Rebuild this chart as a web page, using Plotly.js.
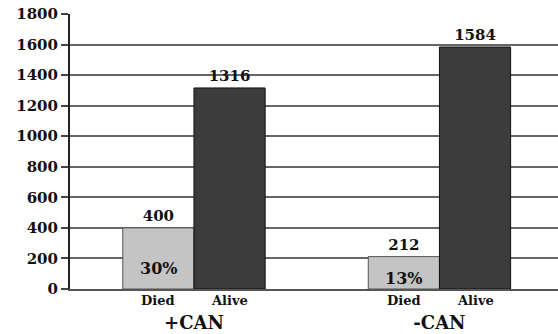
<!DOCTYPE html>
<html><head><meta charset="utf-8">
<script src="https://cdn.plot.ly/plotly-3.0.1.min.js"></script>
<style>html,body{margin:0;padding:0;background:#fff}</style>
</head><body>
<div id="chart" style="width:558px;height:334px"></div>
<script>
var groups = ['+CAN', '-CAN'];
var seriesNames = ['Died', 'Alive'];
var died = [400, 212];
var alive = [1316, 1584];
var diedPct = ['30%', '13%'];
var yTicks = [0, 200, 400, 600, 800, 1000, 1200, 1400, 1600, 1800];

var FONT = 'DejaVu Serif, Liberation Serif, serif';
var bargap = 0.42;
var xRange = [-0.505, 1.483];
var marginL = 70, marginR = 0;
var plotW = 558 - marginL - marginR;
var pxPerCat = plotW / (xRange[1] - xRange[0]);
var halfBar = (1 - bargap) / 4 * pxPerCat;

var traces = [
  {type: 'bar', name: seriesNames[0], x: groups, y: died,
   marker: {color: '#c4c4c4', line: {color: '#555', width: 1}},
   text: died.map(String), textposition: 'outside', cliponaxis: false,
   textfont: {family: FONT, size: 15, color: '#111', weight: 'bold'}},
  {type: 'bar', name: seriesNames[1], x: groups, y: alive,
   marker: {color: '#3c3c3c', line: {color: '#111', width: 1}},
   text: alive.map(String), textposition: 'outside', cliponaxis: false,
   textfont: {family: FONT, size: 15, color: '#111', weight: 'bold'}}
];

var annotations = [];
groups.forEach(function (g, i) {
  annotations.push({x: g, y: died[i] * 0.33, xref: 'x', yref: 'y', xshift: -halfBar,
    text: diedPct[i], showarrow: false, yanchor: 'middle',
    font: {family: FONT, size: 16, color: '#111', weight: 'bold'}});
  seriesNames.forEach(function (s, k) {
    annotations.push({x: g, y: 0, xref: 'x', yref: 'y', xshift: (k === 0 ? -1 : 1) * halfBar,
      yshift: -2, text: s, showarrow: false, yanchor: 'top',
      font: {family: FONT, size: 13, color: '#111', weight: 'bold'}});
  });
});

var layout = {
  width: 558, height: 334,
  margin: {l: marginL, r: marginR, t: 14, b: 45},
  paper_bgcolor: '#fff', plot_bgcolor: '#fff',
  showlegend: false,
  barmode: 'group', bargap: bargap, bargroupgap: 0,
  xaxis: {type: 'category', range: xRange, showgrid: false, showline: true,
    linecolor: '#555', linewidth: 2, ticks: '', ticklabelstandoff: 16,
    tickfont: {family: FONT, size: 18, color: '#111', weight: 'bold'}, fixedrange: true},
  yaxis: {range: [0, 1800], tickvals: yTicks, ticktext: yTicks.map(String),
    showgrid: true, gridcolor: '#666', gridwidth: 2, zeroline: false,
    showline: true, linecolor: '#222', linewidth: 2,
    ticks: 'outside', ticklen: 7, tickcolor: '#444', tickwidth: 2,
    tickfont: {family: FONT, size: 15, color: '#111', weight: 'bold'}, fixedrange: true},
  annotations: annotations
};

Plotly.newPlot('chart', traces, layout, {displayModeBar: false, staticPlot: true});
</script>
</body></html>
